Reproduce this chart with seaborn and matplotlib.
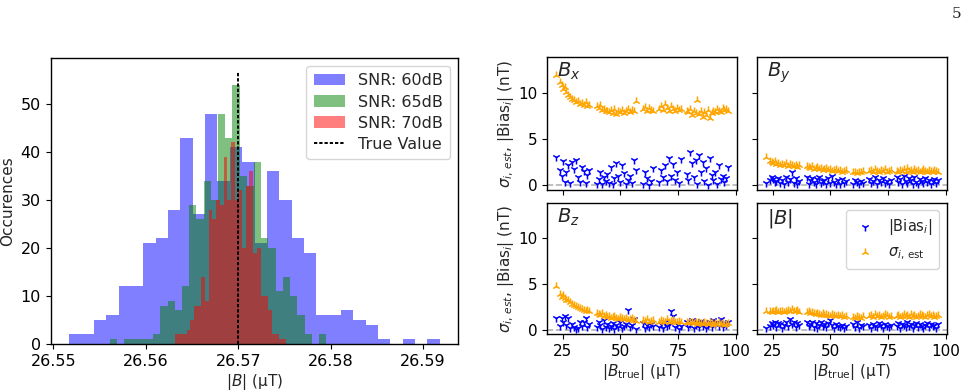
import numpy as np
import pandas as pd
import matplotlib
matplotlib.use("Agg")
import matplotlib.pyplot as plt
import seaborn as sns

# ---------------- data: histogram (counts per bin) ----------------
snr_labels = ["SNR: 60dB", "SNR: 65dB", "SNR: 70dB"]
snr_colors = ["blue", "green", "red"]
# first and last bin edge of each histogram (uT)
range_60 = (26.5517, 26.5918)
range_65 = (26.5561, 26.5795)
range_70 = (26.5632, 26.5752)
counts_60 = [2, 2, 5, 6, 12, 12, 21, 22, 28, 43, 27, 48, 34, 41, 38,
             21, 36, 30, 22, 19, 6, 6, 7, 5, 4, 1, 0, 1, 0, 1]
counts_65 = [1, 0, 1, 1, 1, 1, 2, 8, 9, 7, 12, 29, 26, 34, 30,
             48, 43, 54, 35, 33, 38, 22, 20, 11, 14, 10, 6, 2, 0, 2]
counts_70 = [2, 2, 2, 3, 5, 8, 8, 14, 9, 28, 26, 30, 29, 39, 30,
             42, 30, 32, 20, 33, 36, 19, 20, 10, 10, 7, 2, 2, 1, 1]
true_value = 26.57
hist_xticks = [26.55, 26.56, 26.57, 26.58, 26.59]

# ---------------- data: bias / sigma scatter panels ----------------
b_true = [22.0, 23.9, 24.6, 25.3, 25.9, 26.6, 27.4, 28.3, 29.1, 30.0, 30.8, 31.7, 32.5, 33.3, 34.2, 34.9, 35.6, 36.4,
          39.8, 40.5, 41.3, 42.0, 42.8, 43.6, 44.3, 45.1, 45.9, 46.6, 47.4, 48.2, 49.1, 49.9, 50.8, 51.6, 52.5, 53.3, 54.2, 55.0, 55.9, 56.7,
          59.6, 60.5, 61.4, 62.3, 63.2, 64.1,
          66.8, 67.6, 68.5, 69.3, 70.1, 71.0, 71.8, 72.7, 73.5, 74.4, 75.2, 76.1,
          78.7, 79.5, 80.3, 81.1, 81.8, 82.6, 83.3, 84.1, 84.9, 85.6, 86.4, 87.2, 88.0, 88.7, 89.5, 90.3, 91.1, 91.9, 92.7, 93.5, 94.3, 95.1, 95.9, 96.8]

sigma_bx = [11.9, 11.2, 10.9, 10.4, 10.6, 10.1, 9.8, 9.6, 9.3, 9.2, 9.0, 9.1, 8.8, 8.9, 8.7, 9.0, 8.6, 8.7,
            8.6, 8.4, 8.7, 8.2, 8.3, 8.0, 8.1, 7.9, 8.2, 7.8, 8.3, 7.7, 8.1, 7.9, 8.2, 7.8, 8.0, 8.3, 7.9, 8.2, 8.0, 9.1,
            8.3, 8.5, 8.1, 8.4, 8.2, 8.0,
            8.3, 8.6, 8.2, 8.8, 8.4, 8.1, 8.6, 8.3, 8.0, 8.4, 8.2, 8.3,
            8.1, 7.9, 8.3, 7.6, 8.0, 7.8, 9.2, 7.7, 8.1, 7.4, 7.9, 7.6, 8.2, 7.3, 7.8, 8.0, 7.9, 8.3, 8.1, 7.9, 8.4, 8.2, 8.3, 8.1]
bias_bx = [3.1, 1.7, 1.0, 2.6, 0.4, 1.4, 2.2, 0.3, 2.5, 1.8, 2.7, 0.9, 0.4, 2.0, 1.6, 0.3, 1.1, 1.7,
           0.2, 0.7, 1.5, 0.1, 0.9, 0.5, 1.2, 0.3, 2.0, 0.2, 0.8, 2.4, 1.0, 0.4, 2.2, 1.3, 0.1, 0.6, 1.0, 0.3, 2.8, 1.7,
           0.2, 1.4, 0.8, 0.0, 0.5, 1.9,
           0.4, 1.7, 0.9, 2.2, 0.5, 3.0, 1.0, 2.3, 0.6, 1.4, 0.3, 2.9,
           1.2, 0.6, 3.6, 2.4, 0.9, 2.7, 0.2, 3.3, 1.5, 2.5, 0.5, 1.9, 0.0, 3.0, 1.1, 0.6, 1.4, 0.1, 2.2, 0.7, 1.0, 0.4, 0.8, 2.0]

sigma_by = [3.1, 2.6, 2.5, 2.4, 2.6, 2.3, 2.4, 2.2, 2.3, 2.2, 2.4, 2.1, 2.3, 2.2, 2.1, 2.2, 2.0, 2.2,
            2.1, 2.0, 1.9, 2.1, 1.8, 1.9, 2.0, 1.8, 1.9, 1.7, 1.8, 1.9, 1.7, 1.8, 1.6, 1.7, 1.8, 1.6, 1.7, 1.5, 1.6, 1.7,
            1.4, 1.5, 1.3, 1.5, 1.4, 1.6,
            1.6, 1.7, 1.5, 1.8, 1.6, 1.5, 1.7, 1.6, 1.8, 1.5, 1.6, 1.7,
            1.6, 1.5, 1.7, 1.6, 1.8, 1.5, 1.9, 1.6, 1.7, 1.5, 1.8, 1.6, 1.7, 1.5, 1.6, 1.8, 1.6, 1.5, 1.7, 1.6, 1.5, 1.7, 1.6, 1.5]
bias_by = [0.3, 0.6, 0.9, 0.7, 0.4, 0.5, 0.8, 0.3, 0.6, 0.2, 0.9, 0.4, 0.7, 1.5, 0.3, 0.8, 0.1, 0.5,
           0.9, 0.2, 0.6, 0.8, 0.4, 0.1, 0.7, 0.9, 0.3, 0.5, 0.6, 0.2, 0.8, 0.3, 1.0, 0.4, 0.1, 0.6, 0.2, 0.7, 0.3, 0.5,
           0.2, 0.6, 0.4, 0.1, 0.5, 0.3,
           0.7, 0.3, 0.5, 0.9, 0.2, 0.6, 0.4, 0.8, 0.3, 0.5, 0.1, 0.6,
           0.9, 0.4, 0.7, 0.2, 1.0, 0.5, 0.3, 0.8, 0.6, 0.1, 0.9, 0.4, 0.2, 0.7, 0.5, 0.3, 0.8, 0.4, 0.6, 0.2, 0.5, 0.7, 0.3, 0.6]

sigma_bz = [4.8, 3.9, 3.6, 3.8, 3.5, 3.3, 3.2, 3.0, 2.8, 2.7, 2.6, 2.5, 2.4, 2.3, 2.2, 2.1, 2.2, 2.0,
            1.8, 1.7, 1.6, 1.8, 1.5, 1.6, 1.4, 1.5, 1.3, 1.4, 1.5, 1.3, 1.2, 1.4, 1.3, 1.2, 1.3, 1.1, 1.2, 1.3, 1.1, 1.0,
            1.1, 1.0, 1.2, 0.9, 1.0, 1.1,
            0.9, 1.1, 1.0, 0.8, 1.2, 0.9, 1.0, 1.1, 0.9, 0.8, 1.0, 0.9,
            0.8, 0.7, 0.9, 0.8, 0.7, 0.9, 0.6, 0.8, 0.7, 0.6, 0.8, 0.7, 0.6, 0.8, 0.7, 0.5, 0.7, 0.6, 0.8, 0.6, 0.7, 0.5, 0.6, 0.7]
bias_bz = [1.3, 0.4, 1.3, 0.8, 1.5, 0.5, 1.3, 0.2, 0.6, 0.3, 0.1, 0.2, 0.9, 0.4, 0.8, 1.3, 0.3, 0.6,
           0.3, 0.9, 0.5, 0.1, 1.1, 0.3, 0.6, 0.2, 0.4, 0.7, 0.1, 0.5, 0.3, 0.8, 0.2, 0.4, 0.6, 2.2, 0.3, 0.5, 1.2, 0.1,
           0.7, 0.2, 0.5, 0.3, 0.6, 0.4,
           0.3, 0.6, 0.2, 0.8, 0.4, 0.5, 2.1, 1.5, 0.3, 0.6, 0.1, 0.4,
           0.9, 0.3, 0.6, 1.1, 0.2, 0.5, 0.8, 0.3, 1.0, 0.4, 0.7, 0.2, 0.5, 0.8, 0.3, 1.1, 0.6, 0.9, 0.4, 1.2, 0.3, 0.7, 0.5, 0.8]

sigma_bn = [2.0, 2.1, 1.9, 2.0, 2.1, 2.2, 1.9, 2.0, 2.1, 1.9, 2.0, 2.2, 2.0, 2.3, 2.1, 2.0, 2.2, 1.9,
            1.9, 2.0, 1.8, 1.9, 1.8, 1.7, 1.8, 1.7, 1.6, 1.8, 1.6, 1.7, 1.6, 1.5, 1.7, 1.6, 1.5, 1.6, 1.5, 1.6, 1.4, 1.5,
            1.4, 1.3, 1.5, 1.4, 1.3, 1.5,
            1.5, 1.6, 1.4, 1.7, 1.5, 1.6, 1.4, 1.5, 1.7, 1.6, 1.4, 1.5,
            1.5, 1.6, 1.4, 1.5, 1.7, 1.5, 1.6, 1.4, 1.7, 1.5, 1.6, 1.4, 1.5, 1.7, 1.6, 1.5, 1.4, 1.6, 1.7, 1.5, 1.6, 1.4, 1.5, 1.6]
bias_bn = [0.2, 0.4, 0.7, 0.5, 0.8, 0.3, 0.7, 0.6, 0.2, 0.5, 0.9, 0.4, 1.2, 0.6, 0.9, 0.3, 0.7, 0.5,
           0.8, 0.4, 0.6, 0.9, 0.3, 0.7, 0.2, 0.5, 0.8, 0.4, 0.6, 0.3, 0.7, 1.1, 0.5, 0.2, 0.6, 0.4, 0.3, 0.5, 0.2, 0.4,
           0.6, 0.3, 0.8, 0.2, 0.5, 0.4,
           0.5, 0.2, 0.6, 0.4, 0.3, 0.7, 0.5, 0.2, 0.6, 0.4, 0.3, 0.5,
           0.4, 0.7, 0.2, 0.6, 0.5, 0.3, 0.8, 0.4, 0.6, 0.2, 0.5, 0.7, 0.3, 0.6, 0.4, 0.2, 0.5, 0.7, 0.3, 0.6, 0.4, 0.5, 0.2, 0.6]

panel_titles = ["$B_x$", "$B_y$", "$B_z$", "$|B|$"]
scatter_xticks = [25, 50, 75, 100]
scatter_yticks = [0, 5, 10]

# ---------------- styling ----------------
sns.set_style("ticks")
plt.rcParams["font.family"] = ["DejaVu Sans"]
plt.rcParams["mathtext.fontset"] = "dejavusans"
plt.rcParams["font.size"] = 11
plt.rcParams["axes.linewidth"] = 1.0
plt.rcParams["axes.edgecolor"] = "black"
plt.rcParams["xtick.color"] = "black"
plt.rcParams["ytick.color"] = "black"

W, H = 970, 390
fig = plt.figure(figsize=(W / 100, H / 100), dpi=100)


def px_axes(left, top, right, bottom):
    return fig.add_axes([left / W, 1 - bottom / H, (right - left) / W, (bottom - top) / H])


# ---------------- left: histogram ----------------
axh = px_axes(50.7, 58.3, 458.3, 344.0)
for lab, col, rng, cnt in zip(snr_labels, snr_colors, [range_60, range_65, range_70],
                              [counts_60, counts_65, counts_70]):
    edges = [float(e) for e in np.linspace(rng[0], rng[1], len(cnt) + 1)]
    centers = [0.5 * (a + b) for a, b in zip(edges[:-1], edges[1:])]
    df = pd.DataFrame({"B": centers, "n": cnt})
    sns.histplot(data=df, x="B", weights="n", bins=edges, color=col, alpha=0.5,
                 linewidth=0, label=lab, ax=axh)
ymax_line = max(max(counts_60), max(counts_65), max(counts_70)) * 1.05
axh.vlines(true_value, 0, ymax_line, colors="black", linestyles=(0, (1.7, 1.0)),
           linewidth=1.4, label="True Value")
axh.set_xlim(26.5497, 26.5938)
axh.set_ylim(0, 59.5)
axh.set_xticks(hist_xticks)
axh.set_xticklabels([f"{v:.2f}" for v in hist_xticks])
axh.set_yticks([0, 10, 20, 30, 40, 50])
axh.set_xlabel("$|B|$ (µT)", labelpad=2)
axh.set_ylabel("Occurences", labelpad=4)
axh.tick_params(labelsize=11.5, length=3.5)
handles, labels = axh.get_legend_handles_labels()
order = [labels.index(l) for l in snr_labels + ["True Value"]]
axh.legend([handles[i] for i in order], [labels[i] for i in order],
           loc="upper right", fontsize=11.5, handlelength=2.0, borderpad=0.45,
           labelspacing=0.38, framealpha=0.8)

# ---------------- right: 2x2 scatter ----------------
pos = [(547.3, 57.0, 736.7, 190.0), (757.3, 57.0, 946.7, 190.0),
       (547.3, 202.7, 736.7, 334.3), (757.3, 202.7, 946.7, 334.3)]
sigmas = [sigma_bx, sigma_by, sigma_bz, sigma_bn]
biases = [bias_bx, bias_by, bias_bz, bias_bn]
ylab = r"$\sigma_{i,\,est}$, $|\mathrm{Bias}_i|$ (nT)"
for k, (p, sg, bs, ttl) in enumerate(zip(pos, sigmas, biases, panel_titles)):
    ax = px_axes(*p)
    ax.axhline(0, color="gray", linestyle="--", linewidth=1.2, alpha=0.6, zorder=1)
    sns.scatterplot(x=b_true, y=bs, marker="1", color="blue", s=34, linewidth=1.1,
                    label=r"$|\mathrm{Bias}_i|$", ax=ax, zorder=3)
    sns.scatterplot(x=b_true, y=sg, marker="2", color="orange", s=34, linewidth=1.1,
                    label=r"$\sigma_{i,\,\mathrm{est}}$", ax=ax, zorder=3)
    ax.set_xlim(18.3, 100.4)
    ax.set_ylim(-0.5, 13.9)
    ax.set_xticks(scatter_xticks)
    ax.set_yticks(scatter_yticks)
    ax.tick_params(labelsize=11, length=3.5)
    ax.text(0.05, 0.97, ttl, transform=ax.transAxes, fontsize=14, va="top", ha="left")
    if k % 2 == 0:
        ax.set_ylabel(ylab, fontsize=11, labelpad=2)
    else:
        ax.set_ylabel("")
        ax.tick_params(labelleft=False)
    if k >= 2:
        ax.set_xlabel(r"$|B_{\mathrm{true}}|$ (µT)", fontsize=11, labelpad=2)
    else:
        ax.set_xlabel("")
        ax.tick_params(labelbottom=False)
    if k == 3:
        ax.legend(loc="upper right", fontsize=10.5, handlelength=1.6, borderpad=0.5,
                  labelspacing=0.45, markerscale=1.0, framealpha=0.8)
    else:
        leg = ax.get_legend()
        if leg is not None:
            leg.remove()

fig.text(957 / W, 1 - 14 / H, "5", family="DejaVu Serif", fontsize=11, ha="center", va="center")

fig.savefig("out.png", dpi=100)
